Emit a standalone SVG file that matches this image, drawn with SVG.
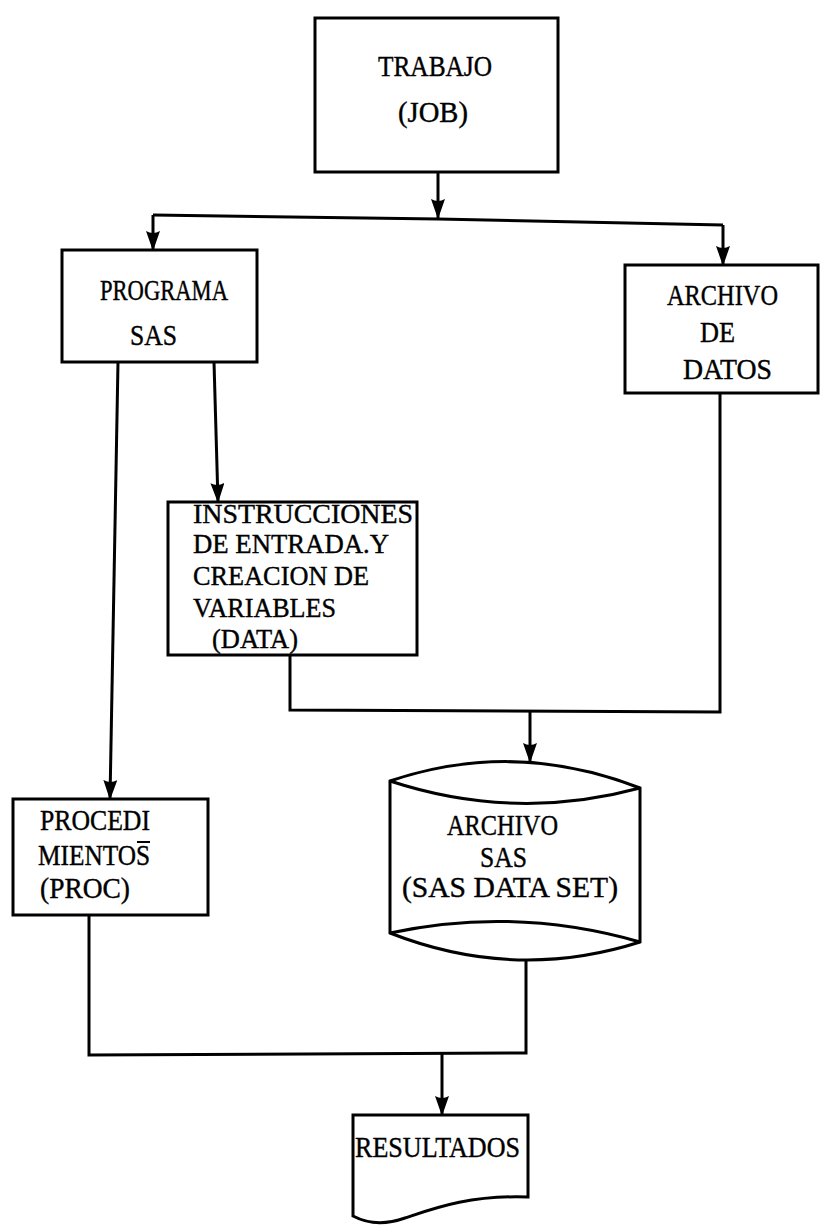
<svg xmlns="http://www.w3.org/2000/svg" width="823" height="1227" viewBox="0 0 823 1227">
<style>
.box{fill:#fff;stroke:#000;stroke-width:3;stroke-linejoin:miter}
.ln{fill:none;stroke:#000;stroke-width:3}
.t{font-family:"Liberation Serif","Times New Roman",serif;font-size:30px;fill:#000;stroke:#000;stroke-width:0.4}
.m{font-family:"Liberation Serif","Times New Roman",serif;font-size:28px;fill:#000;stroke:#000;stroke-width:0.4}
</style>
<defs>
<marker id="ah" markerUnits="userSpaceOnUse" viewBox="0 0 20 14" refX="19" refY="7" markerWidth="20" markerHeight="14" orient="auto">
<path d="M0,0 L20,7 L0,14 Q4,7 0,0 Z" fill="#000"/>
</marker>
</defs>
<rect width="823" height="1227" fill="#fff"/>

<g id="connectors">
<line class="ln" x1="438" y1="172" x2="438" y2="218" marker-end="url(#ah)"/>
<polyline class="ln" points="153,215 438,219 723,225"/>
<line class="ln" x1="153" y1="215" x2="153" y2="250" marker-end="url(#ah)"/>
<line class="ln" x1="723" y1="225" x2="723" y2="265" marker-end="url(#ah)"/>
<line class="ln" x1="118" y1="362" x2="110" y2="799" marker-end="url(#ah)"/>
<line class="ln" x1="214" y1="362" x2="218" y2="502" marker-end="url(#ah)"/>
<polyline class="ln" points="290,655 290,710 720,712 720,393"/>
<line class="ln" x1="530" y1="711" x2="530" y2="762" marker-end="url(#ah)"/>
<polyline class="ln" points="89,915 89,1055 526,1053 526,960"/>
<line class="ln" x1="442" y1="1054" x2="442" y2="1115" marker-end="url(#ah)"/>
</g>

<g id="trabajo">
<rect class="box" x="315" y="18" width="243" height="154"/>
<text class="t" x="378" y="76" textLength="114" lengthAdjust="spacingAndGlyphs">TRABAJO</text>
<text class="t" x="398" y="122" textLength="70" lengthAdjust="spacingAndGlyphs">(JOB)</text>
</g>

<g id="programa">
<rect class="box" x="62" y="250" width="195" height="112"/>
<text class="t" x="100" y="300" textLength="128" lengthAdjust="spacingAndGlyphs">PROGRAMA</text>
<text class="t" x="130" y="345" textLength="47" lengthAdjust="spacingAndGlyphs">SAS</text>
</g>

<g id="archivo-datos">
<rect class="box" x="625" y="265" width="193" height="128"/>
<text class="t" x="667" y="305" textLength="111" lengthAdjust="spacingAndGlyphs">ARCHIVO</text>
<text class="t" x="700" y="342" textLength="35" lengthAdjust="spacingAndGlyphs">DE</text>
<text class="t" x="683" y="379" textLength="89" lengthAdjust="spacingAndGlyphs">DATOS</text>
</g>

<g id="instrucciones">
<rect class="box" x="168" y="502" width="249" height="153"/>
<text class="m" x="193" y="523" textLength="220" lengthAdjust="spacingAndGlyphs">INSTRUCCIONES</text>
<text class="m" x="193" y="553" textLength="196" lengthAdjust="spacingAndGlyphs">DE ENTRADA.Y</text>
<text class="m" x="193" y="585" textLength="176" lengthAdjust="spacingAndGlyphs">CREACION DE</text>
<text class="m" x="193" y="617" textLength="143" lengthAdjust="spacingAndGlyphs">VARIABLES</text>
<text class="m" x="212" y="648" textLength="86" lengthAdjust="spacingAndGlyphs">(DATA)</text>
</g>

<g id="procedimientos">
<rect class="box" x="13" y="799" width="195" height="116"/>
<text class="t" x="40" y="830" textLength="110" lengthAdjust="spacingAndGlyphs">PROCEDI</text>
<text class="t" x="38" y="865" textLength="112" lengthAdjust="spacingAndGlyphs">MIENTOS</text>
<line x1="137" y1="842" x2="150" y2="842" stroke="#000" stroke-width="2"/>
<text class="t" x="40" y="898" textLength="90" lengthAdjust="spacingAndGlyphs">(PROC)</text>
</g>

<g id="archivo-sas">
<path class="box" d="M390,781 Q515,739 640,788 L640,942 Q515,982 390,933 Z"/>
<path class="ln" d="M390,781 Q515,822 640,788"/>
<path class="ln" d="M390,933 Q515,906 640,942"/>
<text class="t" x="447" y="835" textLength="111" lengthAdjust="spacingAndGlyphs">ARCHIVO</text>
<text class="t" x="480" y="867" textLength="47" lengthAdjust="spacingAndGlyphs">SAS</text>
<text class="t" x="402" y="897" textLength="216" lengthAdjust="spacingAndGlyphs">(SAS DATA SET)</text>
</g>

<g id="resultados">
<path class="box" d="M353,1115 L528,1115 L528,1197 C470,1195 435,1208 405,1218 C385,1225 368,1224 353,1216 Z"/>
<text class="t" x="355" y="1157" textLength="165" lengthAdjust="spacingAndGlyphs">RESULTADOS</text>
</g>
</svg>
